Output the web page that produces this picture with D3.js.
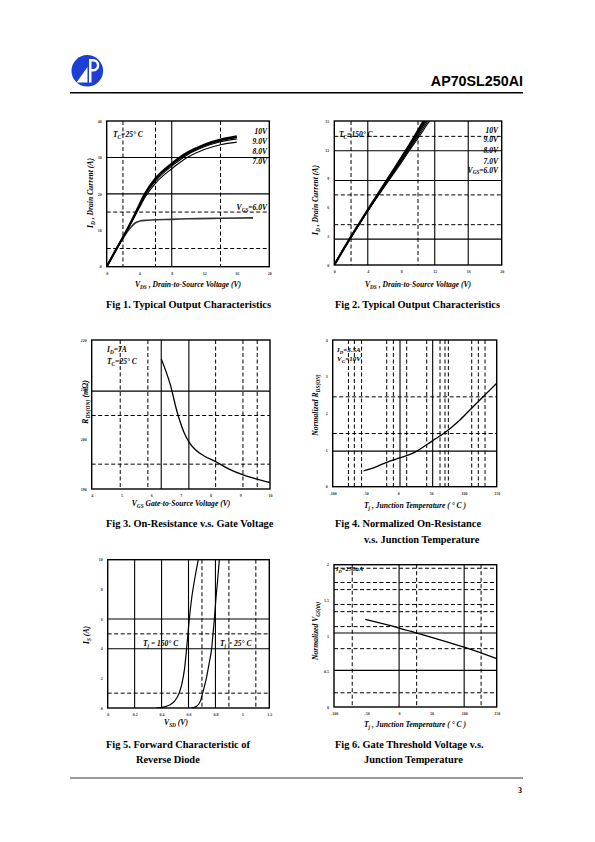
<!DOCTYPE html>
<html><head><meta charset="utf-8">
<script src="https://cdn.jsdelivr.net/npm/d3@7"></script>
<style>body{margin:0;background:#fff}svg{display:block}</style>
</head><body>
<script>
// ---------- DATA ----------
// Fig 1 (Tc=25C)
const fig1Vds = [0,1,2,3,4,4.7,6,8,9,10,12,14,16];
const fig1Id10 = [0,4.1,8.1,12.3,16.9,20,24.2,28.3,30,31.4,33.5,34.9,35.8];
const fig1Id9  = [0,4.1,8.1,12.2,16.7,19.8,23.9,28.0,29.7,31.1,33.2,34.6,35.5];
const fig1Id8  = [0,4.1,8.0,12.1,16.5,19.5,23.5,27.6,29.3,30.8,32.9,34.3,35.1];
const fig1Id7  = [0,4.0,7.9,11.9,16.1,19.0,22.9,26.9,28.6,30.1,32.2,33.5,34.2];
const fig1Vds6 = [0,1,2,3,3.5,4,5,6,8,10,14,18];
const fig1Id6  = [0,4.0,7.8,10.9,12.0,12.5,12.75,12.9,13.0,13.15,13.3,13.4];
const fig1XTicks = [0,4,8,12,16,20];
const fig1YTicks = [0,10,20,30,40];
// Fig 2 (Tc=150C)
const fig2Vds = [0,1,2,3,4,5,6,7,8,9,10,11,12];
const fig2Id10 = [0,1.5,2.95,4.35,5.75,7.1,8.45,9.8,11.15,12.55,14.0,15.5,17];
const fig2Id9  = [0,1.5,2.95,4.35,5.7,7.05,8.4,9.7,11.05,12.4,13.8,15.25,16.7];
const fig2Id8  = [0,1.5,2.9,4.3,5.65,7.0,8.3,9.6,10.9,12.25,13.6,15.0,16.4];
const fig2Id7  = [0,1.5,2.9,4.3,5.65,6.95,8.25,9.5,10.8,12.1,13.4,14.75,16.1];
const fig2Id6  = [0,1.45,2.9,4.25,5.6,6.9,8.15,9.4,10.65,11.95,13.2,14.5,15.8];
const fig2XTicks = [0,4,8,12,16,20];
const fig2YTicks = [0,3,6,9,12,15];
// Fig 3
const fig3Vgs = [6.34,6.65,6.87,7.1,7.27,7.49,7.77,8.17,8.62,9.12,9.57,10];
const fig3Rds = [216.2,210.9,205.6,201.5,199.5,197.9,196.7,195.5,194,192.8,192,191.3];
const fig3XTicks = [4,5,6,7,8,9,10];
const fig3YTicks = [190,200,210,220];
// Fig 4
const fig4Tj = [-53,-33,-13,3,18,28,52,69,94,114,132,150];
const fig4Rn = [0.43,0.55,0.70,0.79,0.88,0.97,1.25,1.45,1.82,2.18,2.5,2.82];
const fig4XTicks = [-100,-50,0,50,100,150];
const fig4YTicks = [0,1,2,3,4];
// Fig 5
const fig5Vsd150 = [0.36,0.42,0.46,0.50,0.53,0.55,0.57,0.586,0.596,0.606,0.625,0.648,0.673];
const fig5Is150  = [0,0.08,0.2,0.5,1.0,1.6,2.6,4,5,6,7.5,8.8,10];
const fig5Vsd25  = [0.62,0.66,0.69,0.705,0.73,0.755,0.772,0.782,0.792,0.805,0.817,0.829];
const fig5Is25   = [0,0.12,0.5,1.0,1.9,3.1,4,5,6,7.5,8.7,10];
const fig5XTicks = [0,0.2,0.4,0.6,0.8,1,1.2];
const fig5YTicks = [0,2,4,6,8,10];
// Fig 6
const fig6Tj = [-52,0,27,50,100,150];
const fig6Vn = [1.23,1.11,1.04,0.98,0.84,0.68];
const fig6XTicks = [-100,-50,0,50,100,150];
const fig6YTicks = [0,0.5,1,1.5,2];

// grid line values
const fig1Grid = {xs:[8], xd:[2,6,14], ys:[20,30], yd:[5,15]};
const fig2Grid = {xs:[4,12,16], xd:[2,10], ys:[2.7,8.8,11.9], yd:[4.2,7.3,13.4]};
const fig3Grid = {xs:[6.34,7.27], xd:[4.96,5.89,8.17,9.09,9.57], ys:[209.7], yd:[195,204.8]};
const fig4Grid = {xs:[2.6,52.4], xd:[-76,-67,-56,-17.7,-7.5,12.8,43.3,63.6,71.2,76.3,111.9,122,132.2], ys:[0.97], yd:[1.45,2.45]};
const fig5Grid = {xs:[0.2,0.4,0.6,0.8], xd:[0.7,0.9,1.1], ys:[4,6], yd:[1,5]};
const fig6Grid = {xs:[0,100], xd:[-72,27,126], ys:[0.515,1.04], yd:[0.2,0.82,1.13,1.34,1.44,1.65,1.75,1.95]};

// ---------- DRAW ----------
const SERIF = "'Liberation Serif','Times New Roman',serif";
const svg = d3.select("body").append("svg").attr("width",595).attr("height",842);

function rich(g, x, y, parts, o={}) {
  const t = g.append("text").attr("x",x).attr("y",y)
    .attr("font-family",o.family||SERIF).attr("font-size",o.size||7)
    .attr("font-weight",o.weight||"bold").attr("font-style",o.style||"italic")
    .attr("text-anchor",o.anchor||"start").attr("fill","#000");
  if (o.rotate) t.attr("transform",`rotate(-90,${x},${y})`);
  parts.forEach(p => {
    const [s,k] = Array.isArray(p)?p:[p,""];
    const ts = t.append("tspan").text(s);
    if (k==="sub") ts.attr("font-size",(o.size||7)*0.7).attr("dy",(o.size||7)*0.25);
    else if (k==="after") ts.attr("dy",-(o.size||7)*0.25);
  });
  return t;
}
let clipId = 0;
function chart(c) {
  const g = svg.append("g");
  const x = d3.scaleLinear().domain(c.xd).range([c.l,c.r]);
  const y = d3.scaleLinear().domain(c.yd).range([c.b,c.t]);
  const id = "clip"+(clipId++);
  g.append("clipPath").attr("id",id).append("rect").attr("x",c.l).attr("y",c.t).attr("width",c.r-c.l).attr("height",c.b-c.t);
  const grid = g.append("g");
  const vl = (vals,dash)=>grid.selectAll(null).data(vals).enter().append("line")
      .attr("x1",d=>x(d)).attr("x2",d=>x(d)).attr("y1",c.t).attr("y2",c.b)
      .attr("stroke","#000").attr("stroke-width",dash?1:1.1).attr("stroke-dasharray",dash?"4,2.5":null);
  const hl = (vals,dash)=>grid.selectAll(null).data(vals).enter().append("line")
      .attr("y1",d=>y(d)).attr("y2",d=>y(d)).attr("x1",c.l).attr("x2",c.r)
      .attr("stroke","#000").attr("stroke-width",dash?1:1.1).attr("stroke-dasharray",dash?"4,2.5":null);
  vl(c.grid.xd,true); hl(c.grid.yd,true); vl(c.grid.xs,false); hl(c.grid.ys,false);
  const cg = g.append("g").attr("clip-path",`url(#${id})`);
  c.series.forEach(s=>{
    const line = d3.line().x(d=>x(d[0])).y(d=>y(d[1])).curve(d3.curveMonotoneX);
    cg.append("path").datum(d3.zip(s.x,s.y)).attr("d",line)
      .attr("fill","none").attr("stroke",s.color||"#000").attr("stroke-width",s.w||1.1);
  });
  g.append("rect").attr("x",c.l).attr("y",c.t).attr("width",c.r-c.l).attr("height",c.b-c.t)
    .attr("fill","none").attr("stroke","#000").attr("stroke-width",1.4);
  const fmt = c.fmt || (d=>String(d));
  const ax = g.append("g").attr("transform",`translate(0,${c.b})`)
    .call(d3.axisBottom(x).tickValues(c.xt).tickSize(0).tickPadding(5).tickFormat(fmt));
  const ay = g.append("g").attr("transform",`translate(${c.l},0)`)
    .call(d3.axisLeft(y).tickValues(c.yt).tickSize(0).tickPadding(5).tickFormat(fmt));
  [ax,ay].forEach(a=>{a.select(".domain").remove();
    a.selectAll("text").attr("font-family",SERIF).attr("font-size",4).attr("font-weight","bold").attr("fill","#333");});
  return g;
}

const AX = 7.6; // axis title size
// Fig 1
const g1 = chart({l:106.7,r:269.3,t:121,b:266.7,xd:[0,20],yd:[0,40],xt:fig1XTicks,yt:fig1YTicks,grid:fig1Grid,
  series:[
    {x:fig1Vds6,y:fig1Id6,w:1.6,color:"#333"},
    {x:fig1Vds,y:fig1Id7,w:1.1},{x:fig1Vds,y:fig1Id8,w:1.1},{x:fig1Vds,y:fig1Id9,w:1.3},{x:fig1Vds,y:fig1Id10,w:2.2}]});
rich(g1,113,137,["T",["C","sub"],["=25° C","after"]],{size:7.5});
rich(g1,267,134,["10V"],{size:7.5,anchor:"end"});
rich(g1,267,144,["9.0V"],{size:7.5,anchor:"end"});
rich(g1,267,153.5,["8.0V"],{size:7.5,anchor:"end"});
rich(g1,267,164,["7.0V"],{size:7.5,anchor:"end"});
rich(g1,267,210,["V",["GS","sub"],["=6.0V","after"]],{size:7.5,anchor:"end"});
rich(g1,188,287,["V",["DS","sub"],[" , Drain-to-Source Voltage (V)","after"]],{size:AX,anchor:"middle"});
rich(g1,93,193,["I",["D","sub"],[" , Drain Current (A)","after"]],{size:AX,anchor:"middle",rotate:true});

// Fig 2
const g2 = chart({l:334.3,r:501.7,t:121,b:265,xd:[0,20],yd:[0,15],xt:fig2XTicks,yt:fig2YTicks,grid:fig2Grid,
  series:[
    {x:fig2Vds,y:fig2Id6,w:1.1},{x:fig2Vds,y:fig2Id7,w:1.1},{x:fig2Vds,y:fig2Id8,w:1.3},{x:fig2Vds,y:fig2Id9,w:1.5},{x:fig2Vds,y:fig2Id10,w:2.2}]});
rich(g2,339,137,["T",["C","sub"],["=150° C","after"]],{size:7.5});
rich(g2,498,133,["10V"],{size:7.5,anchor:"end"});
rich(g2,498,142,["9.0V"],{size:7.5,anchor:"end"});
rich(g2,498,153,["8.0V"],{size:7.5,anchor:"end"});
rich(g2,498,163.5,["7.0V"],{size:7.5,anchor:"end"});
rich(g2,498,172.5,["V",["GS","sub"],["=6.0V","after"]],{size:7.5,anchor:"end"});
rich(g2,418,287,["V",["DS","sub"],[" , Drain-to-Source Voltage (V)","after"]],{size:AX,anchor:"middle"});
rich(g2,318,200,["I",["D","sub"],[" , Drain Current (A)","after"]],{size:AX,anchor:"middle",rotate:true});

// Fig 3
const g3 = chart({l:91.7,r:270,t:340,b:489,xd:[4,10],yd:[190,220],xt:fig3XTicks,yt:fig3YTicks,grid:fig3Grid,
  series:[{x:fig3Vgs,y:fig3Rds,w:1.3}]});
rich(g3,107,352,["I",["D","sub"],["=7A","after"]],{size:7.5});
rich(g3,107,364,["T",["C","sub"],["=25° C","after"]],{size:7.5});
rich(g3,181,506,["V",["GS","sub"],["  Gate-to-Source Voltage (V)","after"]],{size:AX,anchor:"middle"});
rich(g3,88,402,["R",["DS(ON)","sub"],[" (m","after"],["Ω)",""]],{size:8,anchor:"middle",rotate:true});

// Fig 4
const g4 = chart({l:332.7,r:496.7,t:340,b:486.7,xd:[-100,150],yd:[0,4],xt:fig4XTicks,yt:fig4YTicks,grid:fig4Grid,
  series:[{x:fig4Tj,y:fig4Rn,w:1.3}]});
rich(g4,337,352,["I",["D","sub"],["=3.5A","after"]],{size:7});
rich(g4,337,361,["V",["G","sub"],["=10V","after"]],{size:7});
rich(g4,415,508,["T",["j","sub"],[" , Junction Temperature ( ° C )","after"]],{size:AX,anchor:"middle"});
rich(g4,318,405,["Normalized R",["DS(ON)","sub"]],{size:AX,anchor:"middle",rotate:true});

// Fig 5
const g5 = chart({l:107.7,r:269.3,t:559.7,b:708,xd:[0,1.2],yd:[0,10],xt:fig5XTicks,yt:fig5YTicks,grid:fig5Grid,
  series:[{x:fig5Vsd150,y:fig5Is150,w:1.2},{x:fig5Vsd25,y:fig5Is25,w:1.2}]});
rich(g5,143,646,["T",["j","sub"],[" = 150° C","after"]],{size:7.5});
rich(g5,220,646,["T",["j","sub"],[" = 25° C","after"]],{size:7.5});
rich(g5,176,725,["V",["SD","sub"],[" (V)","after"]],{size:AX,anchor:"middle"});
rich(g5,89,635,["I",["S","sub"],[" (A)","after"]],{size:AX,anchor:"middle",rotate:true});

// Fig 6
const g6 = chart({l:334,r:496.7,t:564.7,b:707,xd:[-100,150],yd:[0,2],xt:fig6XTicks,yt:fig6YTicks,grid:fig6Grid,
  series:[{x:fig6Tj,y:fig6Vn,w:1.3}]});
rich(g6,336,571,["I",["D","sub"],["=250uA","after"]],{size:6.5});
rich(g6,415,727,["T",["j","sub"],[" , Junction Temperature ( ° C )","after"]],{size:AX,anchor:"middle"});
rich(g6,318,631,["Normalized V",["GS(th)","sub"]],{size:AX,anchor:"middle",rotate:true});

// Titles
const tt = (x,y,s)=>svg.append("text").attr("x",x).attr("y",y).text(s)
  .attr("font-family",SERIF).attr("font-size",10.4).attr("font-weight","bold").attr("fill","#000");
tt(106,308,"Fig 1. Typical Output Characteristics");
tt(335,308,"Fig 2. Typical Output Characteristics");
tt(106,527,"Fig 3. On-Resistance  v.s. Gate Voltage");
tt(335,527,"Fig 4. Normalized On-Resistance");
tt(364,543,"v.s. Junction Temperature");
tt(106,748,"Fig 5. Forward Characteristic of");
tt(136,763,"Reverse Diode");
tt(335,748,"Fig 6. Gate Threshold Voltage v.s.");
tt(364,763,"Junction Temperature");

// Header
const logo = svg.append("g");
logo.append("circle").attr("cx",87.3).attr("cy",70.8).attr("r",15.8).attr("fill","#1c3fd4");
logo.append("path").attr("d","M76.5,82.5 L87.5,67 L87.5,82.5 Z").attr("fill","#fff");
logo.append("path").attr("d","M89,82.5 L89,59 L93,59 A6.3,6.3 0 0 1 93,71.6 L91.5,71.6 L91.5,82.5 Z").attr("fill","#fff");
logo.append("path").attr("d","M91.5,61.5 L93,61.5 A3.8,3.8 0 0 1 93,69.1 L91.5,69.1 Z").attr("fill","#1c3fd4");
svg.append("text").attr("x",523).attr("y",86).attr("text-anchor","end").text("AP70SL250AI")
  .attr("font-family","'Liberation Sans',Arial,sans-serif").attr("font-weight","bold").attr("font-size",14.3);
svg.append("line").attr("x1",70).attr("x2",523).attr("y1",92.7).attr("y2",92.7).attr("stroke","#000").attr("stroke-width",1.6);
// Footer
svg.append("line").attr("x1",70).attr("x2",523).attr("y1",778).attr("y2",778).attr("stroke","#000").attr("stroke-width",0.8);
svg.append("text").attr("x",522).attr("y",793).attr("text-anchor","end").text("3")
  .attr("font-family",SERIF).attr("font-weight","bold").attr("font-size",8);
</script>
</body></html>
